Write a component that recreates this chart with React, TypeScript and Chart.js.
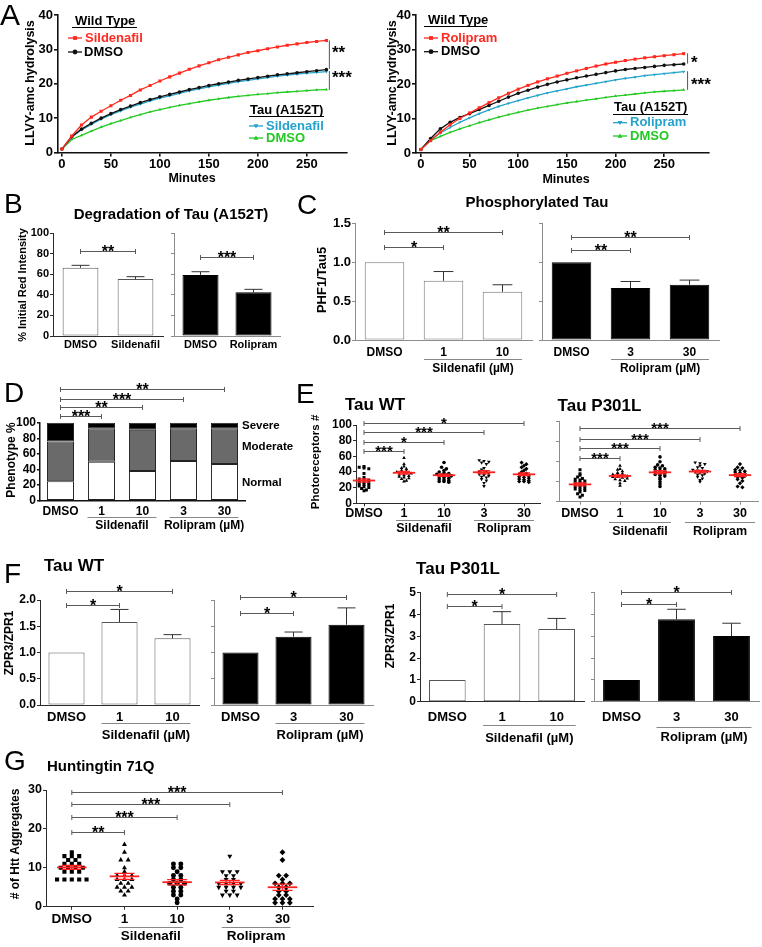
import React, { useEffect, useRef } from "react";
import { Chart, registerables } from "chart.js";

Chart.register(...registerables);

const W = 762;
const H = 947;
const FONT = "'Liberation Sans', Arial, Helvetica, sans-serif";
const RED = "#ff2a1f";
const CYAN = "#23a3cb";
const GREEN = "#22c922";
const BLACK = "#111111";
const DARK_AXIS = "#2b2b2b";
const GREY_AXIS = "#8c8c8c";
const BRACKET = "#5a5a5a";
const MEAN_RED = "#ff2020";

// ===== Panel A: LLVY-amc hydrolysis over time =====
const TIME_MIN = [0, 10, 20, 30, 40, 50, 60, 70, 80, 90, 100, 110, 120, 130, 140, 150, 160, 170, 180, 190, 200, 210, 220, 230, 240, 250, 260, 270];
const A_X_TICKS = [0, 50, 100, 150, 200, 250];
const A_Y_TICKS = [0, 10, 20, 30, 40];
const A1_WT_SILDENAFIL = [1, 4.8, 8.0, 10.3, 12.0, 13.6, 15.2, 16.6, 18.2, 19.5, 20.8, 22.0, 23.1, 24.2, 25.2, 26.1, 27.0, 27.7, 28.4, 29.1, 29.6, 30.2, 30.7, 31.2, 31.6, 32.0, 32.3, 32.6];
const A1_WT_DMSO = [1, 4.6, 6.8, 8.5, 10.0, 11.3, 12.5, 13.5, 14.5, 15.4, 16.2, 16.9, 17.6, 18.3, 18.9, 19.5, 20.0, 20.5, 21.0, 21.4, 21.8, 22.2, 22.6, 22.9, 23.2, 23.5, 23.8, 24.1];
const A1_TAU_SILDENAFIL = [1, 4.5, 6.6, 8.2, 9.7, 11.0, 12.1, 13.2, 14.1, 15.0, 15.8, 16.5, 17.2, 17.9, 18.5, 19.1, 19.6, 20.1, 20.6, 21.0, 21.4, 21.8, 22.2, 22.5, 22.8, 23.1, 23.3, 23.5];
const A1_TAU_DMSO = [1, 3.8, 5.0, 6.2, 7.4, 8.4, 9.3, 10.2, 11.0, 11.8, 12.5, 13.1, 13.7, 14.2, 14.7, 15.2, 15.6, 16.0, 16.3, 16.6, 16.9, 17.1, 17.4, 17.6, 17.8, 18.0, 18.2, 18.3];
const A2_WT_ROLIPRAM = [1, 3.6, 6.0, 8.2, 10.0, 11.6, 13.1, 14.6, 16.0, 17.3, 18.5, 19.6, 20.6, 21.5, 22.3, 23.1, 23.8, 24.5, 25.2, 25.8, 26.3, 26.8, 27.2, 27.6, 27.9, 28.2, 28.5, 28.8];
const A2_WT_DMSO = [1, 4.2, 7.0, 8.9, 10.3, 11.4, 12.6, 13.8, 15.0, 16.2, 17.3, 18.2, 19.1, 19.9, 20.6, 21.2, 21.8, 22.3, 22.8, 23.3, 23.8, 24.2, 24.5, 24.8, 25.1, 25.4, 25.6, 25.8];
const A2_TAU_ROLIPRAM = [1, 3.8, 5.8, 7.4, 8.9, 10.2, 11.4, 12.5, 13.5, 14.4, 15.2, 16.0, 16.7, 17.4, 18.0, 18.6, 19.2, 19.7, 20.2, 20.7, 21.2, 21.6, 22.0, 22.4, 22.7, 23.0, 23.3, 23.6];
const A2_TAU_DMSO = [1, 3.6, 4.8, 6.0, 7.0, 7.9, 8.8, 9.6, 10.4, 11.1, 11.8, 12.4, 13.0, 13.5, 14.0, 14.5, 14.9, 15.3, 15.7, 16.1, 16.5, 16.8, 17.1, 17.4, 17.7, 17.9, 18.1, 18.3];

// ===== Panel B: Degradation of Tau (A152T) =====
const B_SIL_LABELS = ["DMSO", "Sildenafil"];
const B_SIL_MEAN = [66.3, 55.3];
const B_SIL_SEM = [2.3, 2.3];
const B_ROL_LABELS = ["DMSO", "Rolipram"];
const B_ROL_MEAN = [59.2, 42.4];
const B_ROL_SEM = [3.2, 2.9];
const B_Y_TICKS = [0, 20, 40, 60, 80, 100];

// ===== Panel C: Phosphorylated Tau =====
const C_SIL_LABELS = ["DMSO", "1", "10"];
const C_SIL_MEAN = [1.0, 0.76, 0.62];
const C_SIL_SEM = [0, 0.12, 0.09];
const C_ROL_LABELS = ["DMSO", "3", "30"];
const C_ROL_MEAN = [1.0, 0.667, 0.71];
const C_ROL_SEM = [0, 0.085, 0.06];
const C_Y_TICKS = [0, 0.5, 1.0, 1.5];

// ===== Panel D: Phenotype % =====
const D_LABELS = ["DMSO", "1", "10", "3", "30"];
const D_NORMAL = [25, 50, 38, 51, 47];
const D_MODERATE = [51, 43, 53, 42, 46];
const D_SEVERE = [24, 7, 9, 7, 7];
const D_Y_TICKS = [0, 20, 40, 60, 80, 100];

// ===== Panel E: Photoreceptors # =====
const E_LABELS = ["DMSO", "1", "10", "3", "30"];
const E_WT_DMSO = [47, 46, 45, 44, 38, 33, 31, 30, 29, 28, 27, 26, 25, 24, 23, 22, 21, 20, 19, 17, 16];
const E_WT_SIL1 = [58, 50, 47, 45, 44, 42, 41, 40, 40, 39, 38, 37, 36, 35, 34, 33, 32, 31, 29, 28];
const E_WT_SIL10 = [52, 46, 44, 42, 40, 39, 38, 37, 36, 36, 35, 34, 33, 32, 31, 30, 29, 28, 28, 27];
const E_WT_ROL3 = [55, 54, 53, 52, 50, 45, 43, 41, 40, 39, 38, 37, 36, 35, 34, 33, 31, 29, 26, 22];
const E_WT_ROL30 = [52, 50, 48, 46, 44, 42, 40, 38, 37, 36, 35, 34, 33, 32, 31, 30, 29, 28, 28, 27];
const E_P_DMSO = [40, 35, 33, 31, 29, 28, 27, 26, 25, 24, 23, 22, 21, 20, 19, 18, 17, 16, 15, 14, 12, 10, 8, 6];
const E_P_SIL1 = [45, 41, 40, 38, 36, 35, 34, 33, 33, 32, 31, 31, 30, 29, 28, 27, 26, 23, 20];
const E_P_SIL10 = [56, 50, 46, 45, 43, 42, 41, 40, 39, 38, 37, 36, 35, 34, 33, 32, 30, 28, 25, 22, 19];
const E_P_ROL3 = [49, 48, 47, 45, 43, 42, 40, 39, 38, 38, 37, 36, 35, 34, 33, 31, 29, 27, 25];
const E_P_ROL30 = [47, 43, 42, 40, 39, 38, 37, 36, 35, 34, 33, 32, 31, 30, 28, 26, 23, 19, 18];
const E_WT_Y_TICKS = [0, 20, 40, 60, 80, 100];
const E_P_Y_TICKS = [0, 25, 50, 75, 100];

// ===== Panel F: ZPR3/ZPR1 =====
const F_SIL_LABELS = ["DMSO", "1", "10"];
const F_ROL_LABELS = ["DMSO", "3", "30"];
const F_WT_SIL_MEAN = [1.0, 1.58, 1.27];
const F_WT_SIL_SEM = [0, 0.24, 0.07];
const F_WT_ROL_MEAN = [1.0, 1.3, 1.53];
const F_WT_ROL_SEM = [0, 0.09, 0.32];
const F_P_SIL_MEAN = [1.0, 3.56, 3.33];
const F_P_SIL_SEM = [0, 0.57, 0.49];
const F_P_ROL_MEAN = [1.0, 3.78, 3.01];
const F_P_ROL_SEM = [0, 0.46, 0.59];
const F_WT_Y_TICKS = [0, 0.5, 1.0, 1.5, 2.0];
const F_P_Y_TICKS = [0, 1, 2, 3, 4, 5];

// ===== Panel G: Huntingtin 71Q =====
const G_LABELS = ["DMSO", "1", "10", "3", "30"];
const G_DMSO = [14, 13, 13, 13, 12, 12, 11, 11, 11, 10, 10, 10, 10, 9, 9, 9, 7, 7, 7, 7, 7];
const G_SIL1 = [16, 14, 12, 12, 10, 9, 8, 8, 8, 7, 7, 7, 6, 6, 5, 5, 5, 4, 4, 3];
const G_SIL10 = [11, 11, 10, 10, 9, 8, 8, 7, 7, 6, 6, 6, 5, 5, 4, 4, 3, 3, 2, 1];
const G_ROL3 = [13, 9, 9, 9, 8, 8, 7, 7, 6, 6, 6, 6, 5, 5, 5, 5, 4, 4, 3, 3, 3];
const G_ROL30 = [14, 12, 8, 8, 7, 6, 6, 6, 5, 5, 4, 4, 3, 3, 2, 2, 2, 1, 1, 1];
const G_Y_TICKS = [0, 10, 20, 30];

// ===== helpers =====
const mean = (a: number[]) => a.reduce((s, v) => s + v, 0) / a.length;
const sem = (a: number[]) => {
  const m = mean(a);
  const sd = Math.sqrt(a.reduce((s, v) => s + (v - m) * (v - m), 0) / (a.length - 1));
  return sd / Math.sqrt(a.length);
};

function swarm(values: number[], bin: number, dx: number): number[] {
  const groups = new Map<number, number[]>();
  values.forEach((v, i) => {
    const k = Math.round(v / bin);
    if (!groups.has(k)) groups.set(k, []);
    groups.get(k)!.push(i);
  });
  const off = new Array(values.length).fill(0);
  groups.forEach((idx) => {
    const n = idx.length;
    idx.forEach((i, j) => {
      off[i] = (j - (n - 1) / 2) * dx;
    });
  });
  return off;
}

type Rect = { L: number; T: number; R: number; B: number };

function frame(r: Rect) {
  const yW = 30;
  const xH = 20;
  return {
    padding: { left: r.L - yW, top: r.T, right: W - r.R, bottom: H - r.B - xH },
    yFit: (s: any) => {
      s.width = yW;
    },
    xFit: (s: any) => {
      s.height = xH;
    },
  };
}

function drawMarker(ctx: CanvasRenderingContext2D, style: string, x: number, y: number, r: number, color: string) {
  ctx.save();
  ctx.fillStyle = color;
  ctx.beginPath();
  if (style === "rect") ctx.rect(x - r * 0.8, y - r * 0.8, r * 1.6, r * 1.6);
  else if (style === "circle") ctx.arc(x, y, r, 0, Math.PI * 2);
  else if (style === "tri") {
    ctx.moveTo(x, y - r);
    ctx.lineTo(x + r, y + r * 0.75);
    ctx.lineTo(x - r, y + r * 0.75);
    ctx.closePath();
  } else {
    ctx.moveTo(x, y + r);
    ctx.lineTo(x + r, y - r * 0.75);
    ctx.lineTo(x - r, y - r * 0.75);
    ctx.closePath();
  }
  ctx.fill();
  ctx.restore();
}

function drawText(ctx: CanvasRenderingContext2D, t: any) {
  ctx.save();
  ctx.font = `${t.bold === false ? "normal" : "bold"} ${t.size}px ${FONT}`;
  ctx.fillStyle = t.color || "#000";
  ctx.textAlign = t.align || "center";
  ctx.textBaseline = "middle";
  if (t.rot) {
    ctx.translate(t.x, t.y);
    ctx.rotate(-Math.PI / 2);
    ctx.fillText(t.t, 0, 0);
  } else ctx.fillText(t.t, t.x, t.y);
  ctx.restore();
}

function extras(ex: any) {
  return {
    id: "extras",
    afterDatasetsDraw(chart: any) {
      const ctx: CanvasRenderingContext2D = chart.ctx;
      const xs = chart.scales.x;
      const ys = chart.scales.y;
      ctx.save();
      if (ex.errors) {
        for (const e of ex.errors) {
          const meta = chart.getDatasetMeta(e.ds);
          const data = chart.data.datasets[e.ds].data;
          meta.data.forEach((el: any, i: number) => {
            const s = e.sem[i];
            if (!s) return;
            const top = ys.getPixelForValue(data[i] + s);
            const half = el.width / 4;
            ctx.strokeStyle = "#333";
            ctx.lineWidth = 1;
            ctx.beginPath();
            ctx.moveTo(el.x, el.y);
            ctx.lineTo(el.x, top);
            ctx.moveTo(el.x - half, top);
            ctx.lineTo(el.x + half, top);
            ctx.stroke();
          });
        }
      }
      if (ex.means) {
        const { sets, half, capHalf } = ex.means;
        sets.forEach((arr: number[], i: number) => {
          const m = mean(arr);
          const s = sem(arr);
          const ym = ys.getPixelForValue(m);
          const yt = ys.getPixelForValue(m + s);
          const yb = ys.getPixelForValue(m - s);
          const cx = xs.getPixelForValue(i);
          ctx.strokeStyle = MEAN_RED;
          ctx.lineWidth = 1.8;
          ctx.beginPath();
          ctx.moveTo(xs.getPixelForValue(i - half), ym);
          ctx.lineTo(xs.getPixelForValue(i + half), ym);
          ctx.stroke();
          ctx.lineWidth = 1.3;
          ctx.beginPath();
          ctx.moveTo(cx, yt);
          ctx.lineTo(cx, yb);
          ctx.moveTo(xs.getPixelForValue(i - capHalf), yt);
          ctx.lineTo(xs.getPixelForValue(i + capHalf), yt);
          ctx.moveTo(xs.getPixelForValue(i - capHalf), yb);
          ctx.lineTo(xs.getPixelForValue(i + capHalf), yb);
          ctx.stroke();
        });
      }
      ctx.restore();
    },
    afterDraw(chart: any) {
      const ctx: CanvasRenderingContext2D = chart.ctx;
      const xs = chart.scales.x;
      const ys = chart.scales.y;
      ctx.save();
      (ex.lines || []).forEach((l: any) => {
        ctx.strokeStyle = l.color || "#000";
        ctx.lineWidth = l.w || 1;
        ctx.beginPath();
        ctx.moveTo(l.x1, l.y1);
        ctx.lineTo(l.x2, l.y2);
        ctx.stroke();
      });
      (ex.legend || []).forEach((g: any) => {
        ctx.strokeStyle = g.color;
        ctx.lineWidth = 1.3;
        ctx.beginPath();
        ctx.moveTo(g.x1, g.y);
        ctx.lineTo(g.x2, g.y);
        ctx.stroke();
        drawMarker(ctx, g.style, (g.x1 + g.x2) / 2, g.y, 2.4, g.color);
      });
      (ex.vlines || []).forEach((v: any) => {
        const x = xs.getPixelForValue(v.x);
        ctx.strokeStyle = "#555";
        ctx.lineWidth = 1;
        ctx.beginPath();
        ctx.moveTo(x, ys.getPixelForValue(v.y1));
        ctx.lineTo(x, ys.getPixelForValue(v.y2));
        ctx.stroke();
      });
      const starSize = ex.starSize || 16;
      (ex.brackets || []).forEach((b: any) => {
        const xa = xs.getPixelForValue(b.a);
        const xb = xs.getPixelForValue(b.b);
        const y = Math.round(ys.getPixelForValue(b.y)) + 0.5;
        ctx.strokeStyle = BRACKET;
        ctx.lineWidth = 1;
        ctx.beginPath();
        ctx.moveTo(xa, y);
        ctx.lineTo(xb, y);
        ctx.moveTo(xa, y - 2.5);
        ctx.lineTo(xa, y + 2.5);
        ctx.moveTo(xb, y - 2.5);
        ctx.lineTo(xb, y + 2.5);
        ctx.stroke();
        ctx.fillStyle = "#000";
        ctx.font = `bold ${starSize}px ${FONT}`;
        ctx.textAlign = "center";
        ctx.textBaseline = "alphabetic";
        ctx.fillText(b.label, (xa + xb) / 2, y - 1.5 + 0.42 * starSize);
      });
      (ex.groups || []).forEach((g: any) => {
        const xa = xs.getPixelForValue(g.a) - g.ext;
        const xb = xs.getPixelForValue(g.b) + g.ext;
        ctx.strokeStyle = "#888";
        ctx.lineWidth = 1;
        ctx.beginPath();
        ctx.moveTo(xa, Math.round(g.lineY) + 0.5);
        ctx.lineTo(xb, Math.round(g.lineY) + 0.5);
        ctx.stroke();
        drawText(ctx, { t: g.label, x: (xa + xb) / 2, y: g.textY, size: g.size });
      });
      (ex.texts || []).forEach((t: any) => drawText(ctx, t));
      ctx.restore();
    },
  };
}

const common = (f: any) => ({
  animation: false,
  responsive: false,
  maintainAspectRatio: false,
  events: [],
  layout: { padding: f.padding },
  plugins: { legend: { display: false }, tooltip: { enabled: false }, title: { display: false } },
});

function yScale(f: any, o: any) {
  return {
    type: "linear",
    min: o.min,
    max: o.max,
    afterFit: f.yFit,
    afterBuildTicks: (s: any) => {
      s.ticks = o.ticks.map((v: number) => ({ value: v }));
    },
    grid: { display: true, drawOnChartArea: false, drawTicks: true, tickLength: o.tl ?? 4, color: o.color, lineWidth: o.lw ?? 1 },
    border: { display: true, color: o.color, width: o.lw ?? 1 },
    ticks: {
      color: "#000",
      font: { family: FONT, size: o.size ?? 12, weight: "bold" },
      padding: o.pad ?? 1,
      autoSkip: false,
      callback: (v: number) => (o.hide ? "" : o.fmt ? o.fmt(v) : String(v)),
    },
  };
}

function xCat(f: any, o: any) {
  return {
    type: "category",
    afterFit: f.xFit,
    grid: { display: false, drawTicks: false },
    border: { display: true, color: o.color, width: o.lw ?? 1 },
    ticks: { color: "#000", font: { family: FONT, size: o.size, weight: "bold" }, padding: o.pad, autoSkip: false, maxRotation: 0 },
  };
}

function xLin(f: any, o: any) {
  return {
    type: "linear",
    min: o.min,
    max: o.max,
    afterFit: f.xFit,
    afterBuildTicks: (s: any) => {
      s.ticks = o.ticks.map((v: number) => ({ value: v }));
    },
    grid: { display: true, drawOnChartArea: false, drawTicks: true, tickLength: o.tl ?? 4, color: o.color, lineWidth: o.lw ?? 1 },
    border: { display: true, color: o.color, width: o.lw ?? 1 },
    ticks: {
      color: "#000",
      font: { family: FONT, size: o.size, weight: "bold" },
      padding: o.pad ?? 0,
      autoSkip: false,
      maxRotation: 0,
      callback: (v: number) => (o.labels ? o.labels[v] : String(v)),
    },
  };
}

function lineChart(o: any) {
  const f = frame(o.rect);
  return {
    type: "line",
    data: {
      datasets: o.sets.map((s: any) => ({
        data: TIME_MIN.map((t, i) => ({ x: t, y: s.data[i] })),
        borderColor: s.color,
        backgroundColor: s.color,
        pointBackgroundColor: s.color,
        borderWidth: 1.3,
        pointStyle: s.style,
        pointRotation: s.rot || 0,
        pointRadius: s.style === "rect" ? 2.2 : 1.8,
        pointBorderWidth: 0,
        tension: 0,
        fill: false,
      })),
    },
    options: {
      ...common(f),
      scales: {
        x: xLin(f, { min: o.xMin, max: o.xMax, ticks: A_X_TICKS, color: BLACK, lw: 1.6, size: 13, tl: 4, pad: 0 }),
        y: yScale(f, { min: 0, max: 40, ticks: A_Y_TICKS, color: BLACK, lw: 1.6, size: 13, tl: 4, pad: 1 }),
      },
    },
    plugins: [extras(o.extras)],
  };
}

function barChart(o: any) {
  const f = frame(o.rect);
  return {
    type: "bar",
    data: {
      labels: o.labels,
      datasets: [
        {
          data: o.values,
          backgroundColor: o.fill,
          borderColor: o.border,
          borderWidth: 1,
          borderSkipped: false,
          barPercentage: o.bp,
          categoryPercentage: 1,
        },
      ],
    },
    options: { ...common(f), scales: { x: xCat(f, o.x), y: yScale(f, o.y) } },
    plugins: [extras({ ...o.extras, errors: [{ ds: 0, sem: o.sem }] })],
  };
}

const SHAPES = [
  { s: "rect", rot: 0 },
  { s: "triangle", rot: 0 },
  { s: "circle", rot: 0 },
  { s: "triangle", rot: 180 },
  { s: "rectRot", rot: 0 },
];

function scatterChart(o: any) {
  const f = frame(o.rect);
  return {
    type: "scatter",
    data: {
      datasets: o.groups.map((vals: number[], ci: number) => {
        const off = swarm(vals, o.bin, o.dx);
        return {
          data: vals.map((v, i) => ({ x: ci + off[i], y: v })),
          pointStyle: SHAPES[ci].s,
          pointRotation: SHAPES[ci].rot,
          pointRadius: SHAPES[ci].s === "circle" ? o.r * 0.85 : o.r,
          pointBackgroundColor: "#000",
          backgroundColor: "#000",
          borderColor: "#000",
          pointBorderWidth: 0,
        };
      }),
    },
    options: {
      ...common(f),
      scales: {
        x: xLin(f, { min: o.xMin, max: o.xMax, ticks: [0, 1, 2, 3, 4], labels: o.labels, color: o.axis, size: o.xSize, tl: 3, pad: o.xPad }),
        y: yScale(f, o.y),
      },
    },
    plugins: [extras({ ...o.extras, means: { sets: o.groups, half: o.half, capHalf: o.capHalf } })],
  };
}

const fmt1 = (v: number) => v.toFixed(1);

const CONFIGS: (() => any)[] = [
  // A left
  () =>
    lineChart({
      rect: { L: 58, T: 15, R: 347, B: 152.5 },
      xMin: -4,
      xMax: 291,
      sets: [
        { data: A1_WT_SILDENAFIL, color: RED, style: "rect" },
        { data: A1_WT_DMSO, color: BLACK, style: "circle" },
        { data: A1_TAU_SILDENAFIL, color: CYAN, style: "triangle", rot: 180 },
        { data: A1_TAU_DMSO, color: GREEN, style: "triangle" },
      ],
      extras: {
        texts: [
          { t: "A", x: 0, y: 17, size: 30, bold: false, align: "left" },
          { t: "LLVY-amc hydrolysis", x: 31, y: 83, size: 12.5, rot: true },
          { t: "Minutes", x: 192, y: 179, size: 12.5 },
          { t: "Wild Type", x: 75, y: 21, size: 13, align: "left" },
          { t: "Sildenafil", x: 85, y: 38, size: 13, align: "left", color: RED },
          { t: "DMSO", x: 84, y: 52, size: 13, align: "left" },
          { t: "Tau (A152T)", x: 250, y: 110, size: 13, align: "left" },
          { t: "Sildenafil", x: 266, y: 126, size: 13, align: "left", color: CYAN },
          { t: "DMSO", x: 266, y: 138, size: 13, align: "left", color: GREEN },
          { t: "**", x: 332, y: 53, size: 17, align: "left" },
          { t: "***", x: 332, y: 78, size: 17, align: "left" },
        ],
        lines: [
          { x1: 72, y1: 27.5, x2: 137, y2: 27.5 },
          { x1: 249, y1: 116.5, x2: 324, y2: 116.5 },
        ],
        legend: [
          { x1: 68, x2: 82, y: 38, color: RED, style: "rect" },
          { x1: 68, x2: 82, y: 52, color: BLACK, style: "circle" },
          { x1: 249, x2: 263, y: 126, color: CYAN, style: "triDown" },
          { x1: 249, x2: 263, y: 138, color: GREEN, style: "tri" },
        ],
        vlines: [
          { x: 273, y1: 32.6, y2: 24.3 },
          { x: 273, y1: 23.7, y2: 18.2 },
        ],
      },
    }),
  // A right
  () =>
    lineChart({
      rect: { L: 416, T: 15, R: 709, B: 153 },
      xMin: -5,
      xMax: 296,
      sets: [
        { data: A2_WT_ROLIPRAM, color: RED, style: "rect" },
        { data: A2_WT_DMSO, color: BLACK, style: "circle" },
        { data: A2_TAU_ROLIPRAM, color: CYAN, style: "triangle", rot: 180 },
        { data: A2_TAU_DMSO, color: GREEN, style: "triangle" },
      ],
      extras: {
        texts: [
          { t: "LLVY-amc hydrolysis", x: 393, y: 83, size: 12.5, rot: true },
          { t: "Minutes", x: 566, y: 180, size: 12.5 },
          { t: "Wild Type", x: 428, y: 20.5, size: 13, align: "left" },
          { t: "Rolipram", x: 441, y: 38, size: 13, align: "left", color: RED },
          { t: "DMSO", x: 441, y: 51.7, size: 13, align: "left" },
          { t: "Tau (A152T)", x: 614, y: 107, size: 13, align: "left" },
          { t: "Rolipram", x: 630, y: 122.7, size: 13, align: "left", color: CYAN },
          { t: "DMSO", x: 630, y: 136, size: 13, align: "left", color: GREEN },
          { t: "*", x: 691, y: 63, size: 17, align: "left" },
          { t: "***", x: 691, y: 85, size: 17, align: "left" },
        ],
        lines: [
          { x1: 424, y1: 26.5, x2: 487, y2: 26.5 },
          { x1: 613, y1: 114.5, x2: 688, y2: 114.5 },
        ],
        legend: [
          { x1: 424, x2: 438, y: 38, color: RED, style: "rect" },
          { x1: 424, x2: 438, y: 51.7, color: BLACK, style: "circle" },
          { x1: 613, x2: 627, y: 122.7, color: CYAN, style: "triDown" },
          { x1: 613, x2: 627, y: 136, color: GREEN, style: "tri" },
        ],
        vlines: [
          { x: 274, y1: 28.9, y2: 25.9 },
          { x: 274, y1: 23.7, y2: 18.3 },
        ],
      },
    }),
  // B left
  () =>
    barChart({
      rect: { L: 53, T: 233, R: 163, B: 336 },
      labels: B_SIL_LABELS,
      values: B_SIL_MEAN,
      sem: B_SIL_SEM,
      fill: "#ffffff",
      border: "#555",
      bp: 0.65,
      x: { color: DARK_AXIS, size: 11, pad: 2.5 },
      y: { min: 0, max: 100, ticks: B_Y_TICKS, color: DARK_AXIS, size: 11, tl: 3, pad: 1 },
      extras: {
        brackets: [{ a: 0, b: 1, y: 82.8, label: "**" }],
        texts: [
          { t: "B", x: 4, y: 205, size: 28, bold: false, align: "left" },
          { t: "Degradation of Tau (A152T)", x: 171, y: 215, size: 15 },
          { t: "% Initial Red Intensity", x: 23, y: 285, size: 11, rot: true },
        ],
      },
    }),
  // B right
  () =>
    barChart({
      rect: { L: 174, T: 233, R: 280, B: 336 },
      labels: B_ROL_LABELS,
      values: B_ROL_MEAN,
      sem: B_ROL_SEM,
      fill: "#000000",
      border: "#000",
      bp: 0.68,
      x: { color: GREY_AXIS, size: 11, pad: 2.5 },
      y: { min: 0, max: 100, ticks: B_Y_TICKS, color: GREY_AXIS, size: 11, tl: 3, hide: true },
      extras: { brackets: [{ a: 0, b: 1, y: 77, label: "***" }] },
    }),
  // C left
  () =>
    barChart({
      rect: { L: 355, T: 223.3, R: 532, B: 340 },
      labels: C_SIL_LABELS,
      values: C_SIL_MEAN,
      sem: C_SIL_SEM,
      fill: "#ffffff",
      border: "#777",
      bp: 0.67,
      x: { color: GREY_AXIS, size: 12, pad: 5 },
      y: { min: 0, max: 1.5, ticks: C_Y_TICKS, color: GREY_AXIS, size: 13, tl: 3, pad: 1, fmt: fmt1 },
      extras: {
        brackets: [
          { a: 0, b: 1, y: 1.196, label: "*" },
          { a: 0, b: 2, y: 1.39, label: "**" },
        ],
        groups: [{ a: 1, b: 2, ext: 19.5, lineY: 359, textY: 369, label: "Sildenafil (µM)", size: 12 }],
        texts: [
          { t: "C", x: 297, y: 206, size: 28, bold: false, align: "left" },
          { t: "Phosphorylated Tau", x: 537, y: 203, size: 15 },
          { t: "PHF1/Tau5", x: 322, y: 280, size: 13, rot: true },
        ],
      },
    }),
  // C right
  () =>
    barChart({
      rect: { L: 542, T: 223.3, R: 719, B: 340 },
      labels: C_ROL_LABELS,
      values: C_ROL_MEAN,
      sem: C_ROL_SEM,
      fill: "#000000",
      border: "#000",
      bp: 0.67,
      x: { color: GREY_AXIS, size: 12, pad: 5 },
      y: { min: 0, max: 1.5, ticks: C_Y_TICKS, color: GREY_AXIS, size: 13, tl: 3, hide: true },
      extras: {
        brackets: [
          { a: 0, b: 1, y: 1.154, label: "**" },
          { a: 0, b: 2, y: 1.33, label: "**" },
        ],
        groups: [{ a: 1, b: 2, ext: 19.5, lineY: 359, textY: 369, label: "Rolipram (µM)", size: 12 }],
      },
    }),
  // D stacked
  () => {
    const f = frame({ L: 40, T: 422.7, R: 245, B: 500.7 });
    const ds = (data: number[], color: string) => ({
      data,
      backgroundColor: color,
      borderColor: "#222",
      borderWidth: 1,
      borderSkipped: false,
      barPercentage: 0.66,
      categoryPercentage: 1,
    });
    return {
      type: "bar",
      data: {
        labels: D_LABELS,
        datasets: [ds(D_NORMAL, "#ffffff"), ds(D_MODERATE, "#6a6a6a"), ds(D_SEVERE, "#000000")],
      },
      options: {
        ...common(f),
        scales: {
          x: { ...xCat(f, { color: BLACK, lw: 1.5, size: 12, pad: 3.5 }), stacked: true },
          y: { ...yScale(f, { min: 0, max: 100, ticks: D_Y_TICKS, color: BLACK, lw: 1.5, size: 12, tl: 3, pad: 1 }), stacked: true },
        },
      },
      plugins: [
        extras({
          brackets: [
            { a: 0, b: 1, y: 108.6, label: "***" },
            { a: 0, b: 2, y: 119.7, label: "**" },
            { a: 0, b: 3, y: 131, label: "***" },
            { a: 0, b: 4, y: 142.8, label: "**" },
          ],
          groups: [
            { a: 1, b: 2, ext: 14, lineY: 517, textY: 525.5, label: "Sildenafil", size: 12 },
            { a: 3, b: 4, ext: 14, lineY: 517, textY: 525.5, label: "Rolipram (µM)", size: 12 },
          ],
          texts: [
            { t: "D", x: 4, y: 394, size: 28, bold: false, align: "left" },
            { t: "Phenotype %", x: 12, y: 460, size: 12, rot: true },
            { t: "Severe", x: 242, y: 426, size: 11.5, align: "left" },
            { t: "Moderate", x: 242, y: 447, size: 11.5, align: "left" },
            { t: "Normal", x: 242, y: 483, size: 11.5, align: "left" },
          ],
        }),
      ],
    };
  },
  // E left
  () =>
    scatterChart({
      rect: { L: 356, T: 425, R: 540, B: 503.3 },
      groups: [E_WT_DMSO, E_WT_SIL1, E_WT_SIL10, E_WT_ROL3, E_WT_ROL30],
      labels: E_LABELS,
      xMin: -0.2,
      xMax: 4.4,
      axis: DARK_AXIS,
      xSize: 12.5,
      xPad: 0,
      r: 2.1,
      bin: 3,
      dx: 0.12,
      half: 0.28,
      capHalf: 0.15,
      y: { min: 0, max: 100, ticks: E_WT_Y_TICKS, color: DARK_AXIS, size: 12, tl: 3, pad: 1 },
      extras: {
        brackets: [
          { a: 0, b: 1, y: 66.8, label: "***" },
          { a: 0, b: 2, y: 78.7, label: "*" },
          { a: 0, b: 3, y: 90.7, label: "***" },
          { a: 0, b: 4, y: 103, label: "*" },
        ],
        starSize: 15,
        groups: [
          { a: 1, b: 2, ext: 8, lineY: 520, textY: 529, label: "Sildenafil", size: 12.5 },
          { a: 3, b: 4, ext: 10, lineY: 520, textY: 529, label: "Rolipram", size: 12.5 },
        ],
        texts: [
          { t: "E", x: 296, y: 395.5, size: 28, bold: false, align: "left" },
          { t: "Tau WT", x: 375, y: 405, size: 17 },
          { t: "Photoreceptors #", x: 315.7, y: 462, size: 11.5, rot: true },
        ],
      },
    }),
  // E right
  () =>
    scatterChart({
      rect: { L: 559, T: 421.7, R: 758, B: 501.7 },
      groups: [E_P_DMSO, E_P_SIL1, E_P_SIL10, E_P_ROL3, E_P_ROL30],
      labels: E_LABELS,
      xMin: -0.525,
      xMax: 4.45,
      axis: GREY_AXIS,
      xSize: 12.5,
      xPad: 1,
      r: 2.1,
      bin: 3,
      dx: 0.12,
      half: 0.28,
      capHalf: 0.15,
      y: { min: 0, max: 100, ticks: E_P_Y_TICKS, color: GREY_AXIS, size: 12, tl: 3, hide: true },
      extras: {
        brackets: [
          { a: 0, b: 1, y: 55, label: "***" },
          { a: 0, b: 2, y: 66.75, label: "***" },
          { a: 0, b: 3, y: 78.4, label: "***" },
          { a: 0, b: 4, y: 91.75, label: "***" },
        ],
        starSize: 15,
        groups: [
          { a: 1, b: 2, ext: 11, lineY: 521.7, textY: 531.7, label: "Sildenafil", size: 12.5 },
          { a: 3, b: 4, ext: 15, lineY: 521.7, textY: 531.7, label: "Rolipram", size: 12.5 },
        ],
        texts: [{ t: "Tau P301L", x: 599.5, y: 406, size: 17 }],
      },
    }),
  // F WT sildenafil
  () =>
    barChart({
      rect: { L: 40, T: 600, R: 199, B: 705 },
      labels: F_SIL_LABELS,
      values: F_WT_SIL_MEAN,
      sem: F_WT_SIL_SEM,
      fill: "#ffffff",
      border: "#555",
      bp: 0.68,
      x: { color: DARK_AXIS, size: 13, pad: 4.5 },
      y: { min: 0, max: 2, ticks: F_WT_Y_TICKS, color: DARK_AXIS, size: 12, tl: 3, pad: 1, fmt: fmt1 },
      extras: {
        brackets: [
          { a: 0, b: 1, y: 1.91, label: "*" },
          { a: 0, b: 2, y: 2.17, label: "*" },
        ],
        groups: [{ a: 1, b: 2, ext: 18, lineY: 723.3, textY: 735.7, label: "Sildenafil (µM)", size: 13 }],
        texts: [
          { t: "F", x: 4, y: 575, size: 28, bold: false, align: "left" },
          { t: "Tau WT", x: 74, y: 566, size: 17 },
          { t: "ZPR3/ZPR1", x: 10, y: 643, size: 12, rot: true },
        ],
      },
    }),
  // F WT rolipram
  () =>
    barChart({
      rect: { L: 214, T: 600, R: 373, B: 705 },
      labels: F_ROL_LABELS,
      values: F_WT_ROL_MEAN,
      sem: F_WT_ROL_SEM,
      fill: "#000000",
      border: "#000",
      bp: 0.68,
      x: { color: GREY_AXIS, size: 13, pad: 4.5 },
      y: { min: 0, max: 2, ticks: F_WT_Y_TICKS, color: GREY_AXIS, size: 12, tl: 3, hide: true },
      extras: {
        brackets: [
          { a: 0, b: 1, y: 1.76, label: "*" },
          { a: 0, b: 2, y: 2.06, label: "*" },
        ],
        groups: [{ a: 1, b: 2, ext: 18, lineY: 723.3, textY: 735.7, label: "Rolipram (µM)", size: 13 }],
      },
    }),
  // F P301L sildenafil
  () =>
    barChart({
      rect: { L: 420, T: 592.7, R: 584, B: 701.7 },
      labels: F_SIL_LABELS,
      values: F_P_SIL_MEAN,
      sem: F_P_SIL_SEM,
      fill: "#ffffff",
      border: "#555",
      bp: 0.67,
      x: { color: DARK_AXIS, size: 13, pad: 7.5 },
      y: { min: 0, max: 5, ticks: F_P_Y_TICKS, color: DARK_AXIS, size: 12, tl: 3, pad: 1 },
      extras: {
        brackets: [
          { a: 0, b: 1, y: 4.39, label: "*" },
          { a: 0, b: 2, y: 4.93, label: "*" },
        ],
        groups: [{ a: 1, b: 2, ext: 19, lineY: 725, textY: 738.3, label: "Sildenafil (µM)", size: 13 }],
        texts: [
          { t: "Tau P301L", x: 458, y: 569, size: 17 },
          { t: "ZPR3/ZPR1", x: 391, y: 636, size: 12, rot: true },
        ],
      },
    }),
  // F P301L rolipram
  () =>
    barChart({
      rect: { L: 594, T: 592.7, R: 759, B: 701.7 },
      labels: F_ROL_LABELS,
      values: F_P_ROL_MEAN,
      sem: F_P_ROL_SEM,
      fill: "#000000",
      border: "#000",
      bp: 0.67,
      x: { color: GREY_AXIS, size: 13, pad: 7.5 },
      y: { min: 0, max: 5, ticks: F_P_Y_TICKS, color: GREY_AXIS, size: 12, tl: 3, hide: true },
      extras: {
        brackets: [
          { a: 0, b: 1, y: 4.48, label: "*" },
          { a: 0, b: 2, y: 5.05, label: "*" },
        ],
        groups: [{ a: 1, b: 2, ext: 20, lineY: 727.3, textY: 737, label: "Rolipram (µM)", size: 13 }],
      },
    }),
  // G
  () =>
    scatterChart({
      rect: { L: 46, T: 790, R: 313, B: 906.7 },
      groups: [G_DMSO, G_SIL1, G_SIL10, G_ROL3, G_ROL30],
      labels: G_LABELS,
      xMin: -0.49,
      xMax: 4.58,
      axis: DARK_AXIS,
      xSize: 13.5,
      xPad: 1,
      r: 2.9,
      bin: 1,
      dx: 0.14,
      half: 0.28,
      capHalf: 0.19,
      y: { min: 0, max: 30, ticks: G_Y_TICKS, color: DARK_AXIS, size: 12.5, tl: 3, pad: 1 },
      extras: {
        brackets: [
          { a: 0, b: 1, y: 19.3, label: "**" },
          { a: 0, b: 2, y: 23, label: "***" },
          { a: 0, b: 3, y: 26.3, label: "***" },
          { a: 0, b: 4, y: 29.6, label: "***" },
        ],
        groups: [
          { a: 1, b: 2, ext: 6, lineY: 926.7, textY: 936.7, label: "Sildenafil", size: 13.5 },
          { a: 3, b: 4, ext: 8, lineY: 926.7, textY: 936.7, label: "Rolipram", size: 13.5 },
        ],
        texts: [
          { t: "G", x: 4, y: 762, size: 28, bold: false, align: "left" },
          { t: "Huntingtin 71Q", x: 47, y: 767, size: 15, align: "left" },
          { t: "# of Htt Aggregates", x: 16, y: 844, size: 12, rot: true },
        ],
      },
    }),
];

function ChartLayer({ config }: { config: () => any }) {
  const ref = useRef<HTMLCanvasElement | null>(null);
  useEffect(() => {
    if (!ref.current) return;
    const chart = new Chart(ref.current, config());
    return () => chart.destroy();
  }, [config]);
  return (
    <canvas
      ref={ref}
      width={W}
      height={H}
      style={{ position: "absolute", left: 0, top: 0, width: W, height: H }}
    />
  );
}

export default function App() {
  return (
    <div style={{ position: "absolute", left: 0, top: 0, width: W, height: H, background: "#ffffff", overflow: "hidden" }}>
      {CONFIGS.map((c, i) => (
        <ChartLayer key={i} config={c} />
      ))}
    </div>
  );
}
